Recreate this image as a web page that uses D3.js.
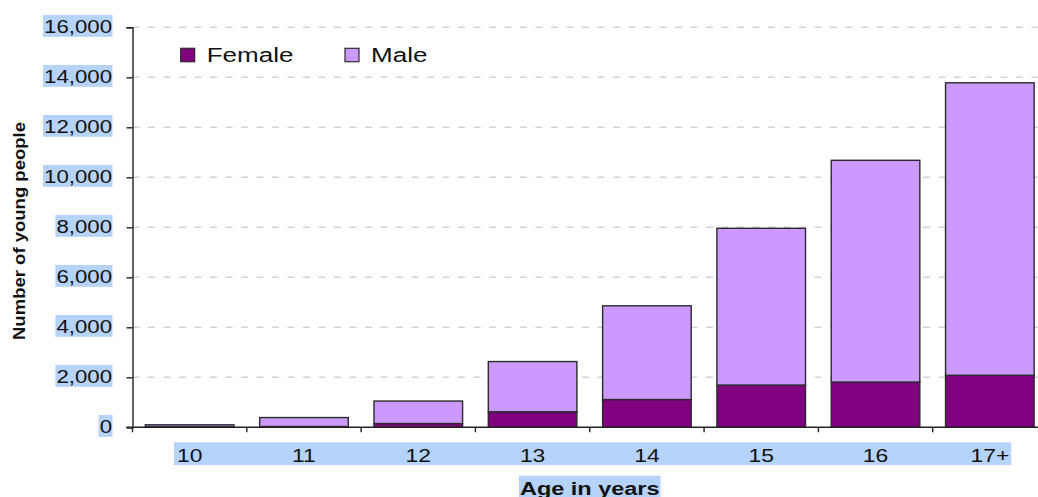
<!DOCTYPE html>
<html>
<head>
<meta charset="utf-8">
<script src="https://cdn.jsdelivr.net/npm/d3@7"></script>
<style>
  html, body { margin: 0; padding: 0; background: #fff; }
  svg { display: block; }
  text { font-family: "Liberation Sans", Arial, sans-serif; fill: #111; }
</style>
</head>
<body>
<svg id="chart" width="1038" height="497"></svg>
<script>
const categories = ["10", "11", "12", "13", "14", "15", "16", "17+"];
const female = [20, 30, 150, 620, 1110, 1690, 1810, 2080];
const male = [80, 360, 900, 2010, 3750, 6270, 8870, 11700];
const seriesNames = ["Female", "Male"];
const seriesColors = ["#800080", "#cc99ff"];
const yTicks = [0, 2000, 4000, 6000, 8000, 10000, 12000, 14000, 16000];
const xTitle = "Age in years";
const yTitle = "Number of young people";

(function () {
const SX = 1.27; // horizontal stretch of the original picture's text
const HL = "#b5d3fb";

const svg = d3.select("#chart");
const mLeft = 132.5, mRight = 1047, mTop = 27.3, mBottom = 427.3;

const x = d3.scaleBand().domain(categories).range([mLeft, mRight])
  .paddingInner(0.225).paddingOuter(0.1125);
const y = d3.scaleLinear().domain([0, 16000]).range([mBottom, mTop]);

const rows = categories.map((c, i) => ({ cat: c, Female: female[i], Male: male[i] }));
const stack = d3.stack().keys(seriesNames)(rows);

// gridlines
svg.append("g").selectAll("line").data(yTicks.filter(d => d > 0)).join("line")
  .attr("x1", mLeft).attr("x2", 1038)
  .attr("y1", d => y(d)).attr("y2", d => y(d))
  .attr("stroke", "#d4d4d4").attr("stroke-width", 1.6)
  .attr("stroke-dasharray", "7,8.5");

// bars
const layers = svg.append("g").selectAll("g").data(stack).join("g")
  .attr("fill", (d, i) => seriesColors[i]);
layers.selectAll("rect").data(d => d).join("rect")
  .attr("x", d => x(d.data.cat))
  .attr("width", x.bandwidth())
  .attr("y", d => y(d[1]))
  .attr("height", d => y(d[0]) - y(d[1]))
  .attr("stroke", "#2a2a2a").attr("stroke-width", 1.4);

// y axis
const yAxis = d3.axisLeft(y).tickValues(yTicks).tickSize(6).tickFormat("");
const gy = svg.append("g").attr("transform", `translate(${mLeft},0)`).call(yAxis);
gy.select(".domain").attr("stroke", "#222").attr("stroke-width", 1.4);
gy.selectAll(".tick line").attr("stroke", "#222").attr("stroke-width", 1.4);

// x axis (ticks at band boundaries)
const boundaries = categories.map(c => x(c) - x.step() * x.paddingInner() / 2).concat([mRight]);
svg.append("line").attr("x1", mLeft - 6).attr("x2", 1038)
  .attr("y1", mBottom).attr("y2", mBottom).attr("stroke", "#222").attr("stroke-width", 1.4);
svg.append("g").selectAll("line").data(boundaries).join("line")
  .attr("x1", d => d).attr("x2", d => d)
  .attr("y1", mBottom).attr("y2", mBottom + 5)
  .attr("stroke", "#222").attr("stroke-width", 1.4);

// helper for horizontally stretched text
function stretchedText(parent, tx, ty, str, size, anchor, weight) {
  const g = parent.append("g").attr("transform", `translate(${tx},${ty}) scale(${SX},1)`);
  const t = g.append("text").attr("text-anchor", anchor)
    .style("font-size", size + "px").style("font-weight", weight || "normal").text(str);
  const bb = t.node().getBBox();
  return { g, x0: tx + bb.x * SX, x1: tx + (bb.x + bb.width) * SX };
}

// y tick labels with highlight boxes
const yl = svg.append("g");
yTicks.forEach(v => {
  const bgRect = yl.append("rect");
  const r = stretchedText(yl, 112, y(v) + 6, d3.format(",")(v), 17.5, "end");
  bgRect.attr("x", r.x0 - 1).attr("width", r.x1 - r.x0 + 1.5)
    .attr("y", y(v) - 12.3).attr("height", 21.8).attr("fill", HL);
});

// x tick labels with one highlight band
const xl = svg.append("g");
const xbg = xl.append("rect");
const xr = categories.map(c => stretchedText(xl, x(c) + x.bandwidth() / 2, 461.7, c, 18, "middle"));
xbg.attr("x", xr[0].x0 - 3).attr("width", xr[xr.length - 1].x1 - xr[0].x0 + 5)
  .attr("y", 442.3).attr("height", 22.7).attr("fill", HL);

// x title
const xt = svg.append("g");
const xtbg = xt.append("rect");
const xtr = stretchedText(xt, (mLeft + mRight) / 2, 494.5, xTitle, 18.5, "middle", "bold");
xtbg.attr("x", xtr.x0 - 1).attr("width", xtr.x1 - xtr.x0 + 2)
  .attr("y", 475.7).attr("height", 30).attr("fill", HL);

// y title
svg.append("text")
  .attr("transform", `translate(25,231) rotate(-90)`)
  .attr("text-anchor", "middle")
  .attr("textLength", 218).attr("lengthAdjust", "spacingAndGlyphs")
  .style("font-size", "16.5px").style("font-weight", "bold")
  .text(yTitle);

// legend
const legendPos = [180.7, 345];
const lg = svg.append("g");
seriesNames.forEach((n, i) => {
  lg.append("rect").attr("x", legendPos[i]).attr("y", 48.3)
    .attr("width", 14).attr("height", 13.4)
    .attr("fill", seriesColors[i]).attr("stroke", "#2a2a2a").attr("stroke-width", 1.2);
  stretchedText(lg, legendPos[i] + 26, 62.3, n, 20.5, "start");
});
})();
</script>
</body>
</html>
